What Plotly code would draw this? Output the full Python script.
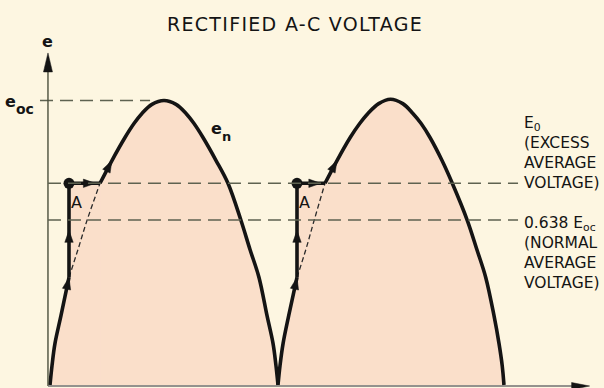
import math
import plotly.graph_objects as go

# Rectified A-C waveform, one sampled half cycle per hump
# (electrical degrees along x, voltage e in units of E_oc along y)
hump1_deg = [0, 1.6, 3.9, 8.7, 15, 22.1, 29.2, 39.5, 48.9, 59.2, 66.3, 72.6, 80.5, 90,
             99.5, 107.4, 113.7, 120.8, 131.1, 140.5, 150.8, 157.9, 165, 171.3, 176.1, 178.4, 180]
hump1_e = [0, 0.075, 0.16, 0.269, 0.416, 0.524, 0.636, 0.78, 0.868, 0.957, 1.011, 1.05, 1.085, 1.10,
           1.085, 1.05, 1.011, 0.957, 0.868, 0.78, 0.636, 0.524, 0.416, 0.269, 0.16, 0.075, 0]
hump2_deg = [180, 181.6, 184, 188.5, 195, 202, 208.5, 217.1, 226.6, 237, 244.5, 251, 259.5, 268.8,
             278.5, 286.5, 293, 300, 309.5, 317.6, 329.5, 337, 344, 350.5, 354.5, 357, 358.4]
hump2_e = [0, 0.075, 0.16, 0.269, 0.416, 0.524, 0.636, 0.78, 0.868, 0.957, 1.011, 1.05, 1.088, 1.105,
           1.088, 1.05, 1.011, 0.957, 0.868, 0.78, 0.636, 0.524, 0.416, 0.269, 0.16, 0.075, 0]

# Reference levels
e_oc = 1.10          # peak open-circuit voltage
E0 = 0.78            # excess average voltage
normal_avg = 0.638   # 0.638 E_oc, normal average voltage

# Sample index where the step leaves the curve, and where it rejoins it at E0
step_from = 4
step_to = 7

W, H = 604, 388
XR = [-39.47, 437.37]
YR = [-0.0116, 1.4887]
sx = W / (XR[1] - XR[0])
sy = H / (YR[1] - YR[0])

BG = "#fdf6e1"
FILL = "#fadfca"
INK = "#141414"
DASH = "#5e6250"
FONT = "DejaVu Sans"

fig = go.Figure()
shapes = []


def head(x, y, x_from, y_from, length=12, half=4.2, color=INK):
    """Filled arrowhead with its tip at (x, y), pointing away from (x_from, y_from)."""
    dx = (x - x_from) * sx
    dy = (y - y_from) * sy
    n = math.hypot(dx, dy)
    ux, uy = dx / n, dy / n
    nx, ny = -uy, ux
    bx, by = -length * ux, -length * uy
    path = (f"M0,0 L{bx + half * nx:.2f},{by + half * ny:.2f} "
            f"L{bx - half * nx:.2f},{by - half * ny:.2f} Z")
    return dict(type="path", xref="x", yref="y", xsizemode="pixel", ysizemode="pixel",
                xanchor=x, yanchor=y, path=path, fillcolor=color,
                line=dict(color=color, width=0.5), layer="above")


def add_hump(deg, e):
    k, j = step_from, step_to
    # shaded area under the stepped path
    fig.add_trace(go.Scatter(x=deg[j:], y=e[j:], mode="lines", fill="tozeroy",
                             fillcolor=FILL, line=dict(width=0, shape="spline"),
                             hoverinfo="skip", showlegend=False))
    fig.add_trace(go.Scatter(x=deg[:k + 1] + [deg[k], deg[j], deg[j]],
                             y=e[:k + 1] + [E0, E0, 0], mode="lines", fill="toself",
                             fillcolor=FILL, line=dict(width=0),
                             hoverinfo="skip", showlegend=False))
    # natural curve bypassed by the step
    fig.add_trace(go.Scatter(x=deg[k:j + 1], y=e[k:j + 1], mode="lines",
                             line=dict(color="#2a2a2a", width=1.3, dash="5px,3px", shape="spline"),
                             hoverinfo="skip", showlegend=False))
    # solid path: rising curve, vertical jump to A, across to the curve, rest of the hump
    line = dict(color=INK, width=3.6, shape="spline")
    fig.add_trace(go.Scatter(x=deg[:k + 1], y=e[:k + 1], mode="lines", line=line,
                             hoverinfo="skip", showlegend=False))
    fig.add_trace(go.Scatter(x=[deg[k], deg[k], deg[j]], y=[e[k], E0, E0], mode="lines",
                             line=dict(color=INK, width=3.6),
                             hoverinfo="skip", showlegend=False))
    fig.add_trace(go.Scatter(x=deg[j:], y=e[j:], mode="lines", line=line,
                             hoverinfo="skip", showlegend=False))
    fig.add_trace(go.Scatter(x=[deg[k]], y=[E0], mode="markers",
                             marker=dict(color=INK, size=11),
                             hoverinfo="skip", showlegend=False))
    # direction arrows
    shapes.append(head(deg[k], e[k], deg[k - 1], e[k - 1]))
    mid = (e[k] + E0) / 2
    shapes.append(head(deg[k], mid, deg[k], e[k]))
    xh = deg[k] + 0.85 * (deg[j] - deg[k])
    shapes.append(head(xh, E0, deg[k], E0))
    shapes.append(head(deg[j + 1], e[j + 1], deg[j], e[j]))
    return deg[k]


a1 = add_hump(hump1_deg, hump1_e)
a2 = add_hump(hump2_deg, hump2_e)

# axes with arrowheads
x_axis_at = -1.6
shapes.append(dict(type="line", xref="x", yref="y", x0=x_axis_at, x1=x_axis_at, y0=-0.004, y1=1.25,
                   line=dict(color="#4b4f3c", width=1.4)))
shapes.append(head(x_axis_at, 1.284, x_axis_at, 0, length=19, half=4.5))
shapes.append(dict(type="line", xref="x", yref="y", x0=x_axis_at, x1=415, y0=-0.004, y1=-0.004,
                   line=dict(color="#707070", width=1.6)))
shapes.append(head(426, -0.004, 0, -0.004, length=18, half=3.5))

# reference levels
shapes.append(dict(type="line", xref="x", yref="y", x0=-7.9, x1=79, y0=e_oc, y1=e_oc,
                   line=dict(color=DASH, width=1.5, dash="13px,7px"), layer="below"))
for lvl in (E0, normal_avg):
    shapes.append(dict(type="line", xref="x", yref="y", x0=x_axis_at, x1=369.5, y0=lvl, y1=lvl,
                       line=dict(color=DASH, width=1.5, dash="13px,7px"), layer="above"))

ann = []
tf = dict(family=FONT, color=INK)


def label(x, y, text, size, ref="x", anchor="center", align="center"):
    ann.append(dict(xref="paper" if ref == "paper" else "x", yref="paper" if ref == "paper" else "y",
                    x=x, y=y, text=text, showarrow=False, align=align,
                    font=dict(size=size, **tf), xanchor=anchor, yanchor="middle"))


label(0.488, 0.938, '<span style="letter-spacing:1.3px">RECTIFIED A-C VOLTAGE</span>', 19, ref="paper")
label(x_axis_at, 1.33, "<b>e</b>", 16)
label(-31.5, 1.095, "<b>e</b>", 16)
label(-19.5, 1.068, "<b>oc</b>", 14)
label(131.5, 0.99, "<b>e</b>", 16)
label(139.5, 0.962, "<b>n</b>", 13)
for ax in (a1, a2):
    label(ax + 6, E0 - 0.075, "A", 16)
label(372.6, 0.898, "E<sub>0</sub><br>(EXCESS<br>AVERAGE<br>VOLTAGE)", 15.5, anchor="left", align="left")
label(372.6, 0.51, "0.638 E<sub>oc</sub><br>(NORMAL<br>AVERAGE<br>VOLTAGE)", 15.5, anchor="left", align="left")

fig.update_layout(
    width=W, height=H, margin=dict(l=0, r=0, t=0, b=0),
    paper_bgcolor=BG, plot_bgcolor=BG,
    xaxis=dict(range=XR, visible=False, fixedrange=True),
    yaxis=dict(range=YR, visible=False, fixedrange=True),
    shapes=shapes, annotations=ann, showlegend=False,
)

fig.write_html("out.html")
